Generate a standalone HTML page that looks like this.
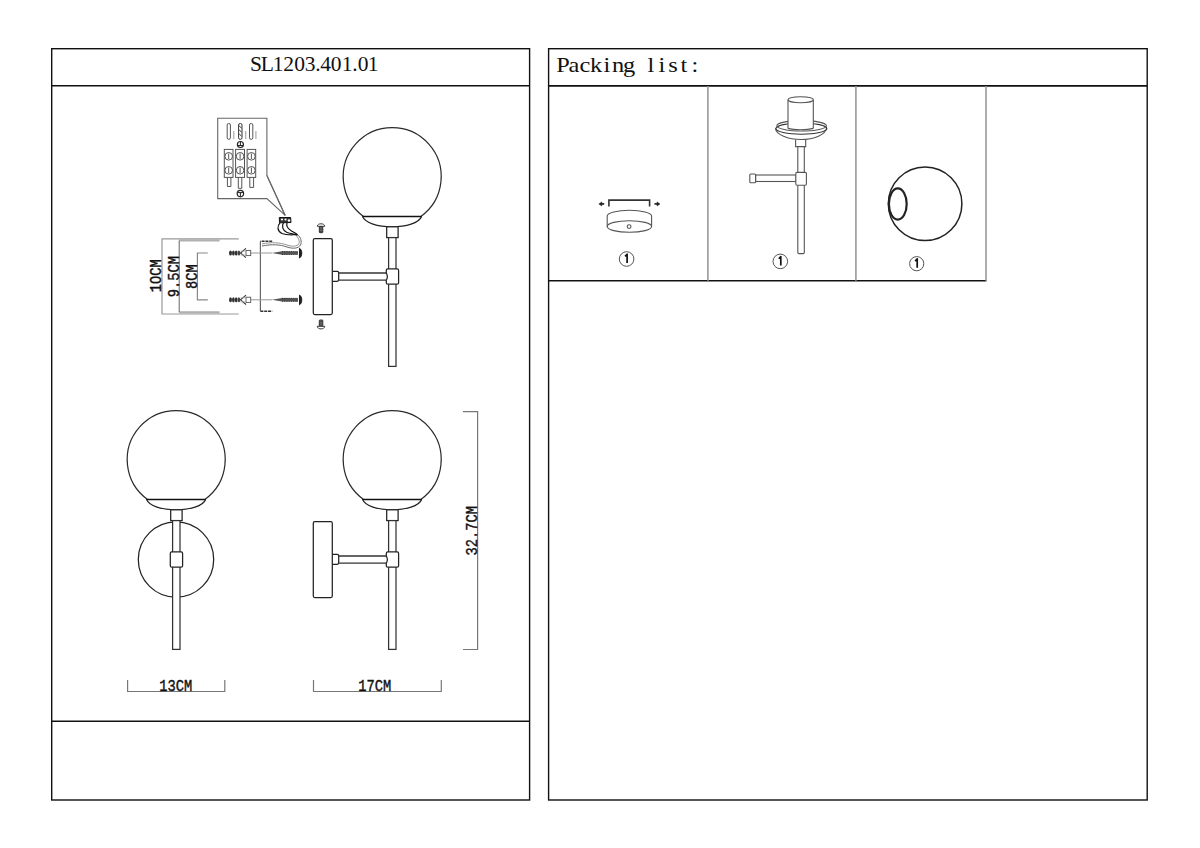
<!DOCTYPE html>
<html><head><meta charset="utf-8"><title>SL1203.401.01</title>
<style>
html,body{margin:0;padding:0;background:#fff;}
body{width:1200px;height:848px;overflow:hidden;position:relative;}
svg{position:absolute;left:0;top:0;}
</style></head>
<body>
<svg width="1200" height="848" viewBox="0 0 1200 848">
<g id="frames" fill="none" stroke="#111" stroke-width="1.4">
  <!-- left panel -->
  <rect x="51.7" y="48.7" width="477.9" height="751.3"/>
  <line x1="51.7" y1="85.8" x2="529.6" y2="85.8" stroke-width="1.6"/>
  <line x1="51.7" y1="721.2" x2="529.6" y2="721.2"/>
  <!-- right panel -->
  <rect x="548.6" y="48.7" width="598.6" height="751.3"/>
  <line x1="548.6" y1="85.9" x2="1147.2" y2="85.9" stroke-width="1.8"/>
  <line x1="548.6" y1="280.8" x2="986.5" y2="280.8" stroke-width="1.6"/>
  <g stroke="#999" stroke-width="1.6">
    <line x1="707.9" y1="86" x2="707.9" y2="280.8"/>
    <line x1="855.9" y1="86" x2="855.9" y2="280.8"/>
    <line x1="986" y1="86" x2="986" y2="280.8"/>
  </g>
</g>

<defs>
  <g id="lamphead">
    <path d="M363.5,499.4 A49,49 0 1 1 420.9,499.4" fill="#fff" stroke="#2a2a2a" stroke-width="1.2"/>
    <path d="M362.5,499.4 C365,506 378,509.8 392,509.8 C406,509.8 419,506 421.6,499.4" fill="#fff" stroke="#222" stroke-width="1.25"/>
    <line x1="362.3" y1="499.4" x2="421.8" y2="499.4" stroke="#111" stroke-width="1.5"/>
    <rect x="386.7" y="509.8" width="11.4" height="10.8" fill="#fff" stroke="#222" stroke-width="1.25"/>
    <rect x="388.6" y="520.6" width="7.4" height="128.8" fill="#fff" stroke="#333" stroke-width="1.25"/>
  </g>
  <rect id="collarF" x="386.3" y="551.9" width="12.3" height="15.3" rx="1.5" fill="#fff" stroke="#222" stroke-width="1.25"/>
  <path id="collarS" d="M386.3,556 V553.4 Q386.3,551.9 387.8,551.9 H397.1 Q398.6,551.9 398.6,553.4 V565.7 Q398.6,567.2 397.1,567.2 H387.8 Q386.3,567.2 386.3,565.7 V563.2 Q388.4,559.6 386.3,556 Z" fill="#fff" stroke="#222" stroke-width="1.25"/>
  <g id="sidearm">
    <path d="M332.3,554.3 H337.2 Q338.7,554.3 338.7,556 V562.6 Q338.7,564.3 337.2,564.3 H332.3" fill="#fff" stroke="#222" stroke-width="1.25"/>
    <rect x="313.3" y="521.7" width="19" height="75.8" rx="1.5" fill="#fff" stroke="#222" stroke-width="1.25"/>
    <line x1="338.7" y1="556" x2="386.3" y2="556" stroke="#333" stroke-width="1.3"/>
    <line x1="338.7" y1="563.2" x2="386.3" y2="563.2" stroke="#333" stroke-width="1.3"/>
  </g>
</defs>

<g id="callout" fill="none" stroke="#666" stroke-width="1.1">
  <path d="M266.9,175.5 V118.3 H217.7 V198.6 H266.9 L285.2,215.4 Z" fill="#fff"/>
  <line x1="266.9" y1="175.5" x2="285.2" y2="215.4"/>
  <g stroke="#555" stroke-width="1">
    <rect x="224.3" y="149.4" width="8.7" height="28" fill="#fff"/>
    <rect x="235.6" y="149.4" width="8.9" height="28" fill="#fff"/>
    <rect x="247.1" y="149.4" width="8.6" height="28" fill="#fff"/>
    <circle cx="228.7" cy="156.3" r="3.8"/><circle cx="240.1" cy="156.3" r="3.8"/><circle cx="251.4" cy="156.3" r="3.8"/>
    <circle cx="228.7" cy="170.3" r="3.8"/><circle cx="240.1" cy="170.3" r="3.8"/><circle cx="251.4" cy="170.3" r="3.8"/>
    <line x1="228.7" y1="153.5" x2="228.7" y2="159"/><line x1="240.1" y1="153.5" x2="240.1" y2="159"/><line x1="251.4" y1="153.5" x2="251.4" y2="159"/>
    <line x1="228.7" y1="167.5" x2="228.7" y2="173"/><line x1="240.1" y1="167.5" x2="240.1" y2="173"/><line x1="251.4" y1="167.5" x2="251.4" y2="173"/>
    <path d="M227.4,177.4 V186.5 H230.9 V177.4"/>
    <path d="M238.3,177.4 V188.3 H241.8 V177.4"/>
    <path d="M249.8,177.4 V187.4 H253.6 V177.4"/>
    <rect x="227.2" y="123.5" width="3.2" height="15.8" rx="1.5"/>
    <rect x="238.6" y="123.5" width="3.4" height="15.8" rx="1.5" stroke="#333"/>
    <rect x="249.5" y="123.5" width="3.3" height="15.8" rx="1.5"/>
    <path d="M239.2,126 L241.5,128 M239.2,130 L241.5,132 M239.2,134 L241.5,136" stroke="#333"/>
    <line x1="233.8" y1="131" x2="233.8" y2="139" stroke="#aaa" stroke-width="1.2"/>
    <line x1="245.7" y1="131" x2="245.7" y2="139" stroke="#aaa" stroke-width="1.2"/>
    <line x1="255.9" y1="131" x2="255.9" y2="139" stroke="#aaa" stroke-width="1.2"/>
    <circle cx="240.4" cy="144.5" r="3" stroke="#222" stroke-width="1.2"/>
    <path d="M237.6,145.5 H243.2 M240.4,142 V145.5" stroke="#222"/>
    <circle cx="240.4" cy="193.6" r="3.2" stroke="#222" stroke-width="1.2"/>
    <path d="M237.6,192.6 H243.2 M240.4,192.6 V196.5" stroke="#222"/>
  </g>
</g>
<g id="terminal" stroke="#111" fill="none">
  <path d="M279.3,217.5 L290.6,217.5 L291,222.5 L279.5,222.8 Z" fill="#333" stroke-width="1"/>
  <circle cx="282" cy="219.5" r="1.1" fill="#fff" stroke="none"/>
  <circle cx="285.5" cy="219.5" r="1.1" fill="#fff" stroke="none"/>
  <circle cx="289" cy="220.5" r="1.3" fill="#fff" stroke="none"/>
  <path d="M280,222.8 C277,226 277,231 282,233.5 C287,235.5 293,234.5 297.5,234.8" stroke-width="1.2"/>
  <path d="M283.5,222.8 C281.5,226 282.5,230.5 287,232.5 C290,233.8 294,234 297.5,234.8" stroke-width="1.2"/>
  <path d="M287,222.8 C286,226 288,229 291.5,231 C294,232.5 296,233.5 297.5,234.8" stroke-width="1.2"/>
  <path d="M297.5,234.8 C301,237 302,242 300.5,245 C298.5,248.5 293,249 287,247 C280,244.5 272,244 262,246" stroke="#666" stroke-width="1"/>
  <path d="M296.5,236 C299,238.5 300,242 298.8,244 C297,246.5 292.5,246.8 287,245 C280,242.5 272,242 262,243.8" stroke="#888" stroke-width="0.9"/>
</g>
<g id="bracket" fill="none" stroke="#333" stroke-width="1.3">
  <path d="M260.4,241.3 V311.3" stroke="#666" stroke-width="1.2"/>
  <path d="M272.2,241.3 H260.4 M260.4,311.3 H272.2" stroke="#333" stroke-width="1.4" stroke-dasharray="3 0.8"/>
</g>
<g id="anchors">
  <g id="anchorA">
    <line x1="250.7" y1="253" x2="272" y2="253" stroke="#999" stroke-width="1"/>
    <rect x="246" y="250.4" width="4.7" height="5.2" fill="#fff" stroke="#555" stroke-width="0.9"/>
    <path d="M246,248.3 L240.5,253 L246,257.7" fill="none" stroke="#333" stroke-width="1.1"/>
    <path d="M240.5,251 L246,251 M240.5,255 L246,255" stroke="#aaa" stroke-width="0.8"/>
    <ellipse cx="230.5" cy="253" rx="1.5" ry="2.5" fill="#333"/>
    <ellipse cx="233.4" cy="253" rx="1.4" ry="2.6" fill="#333"/>
    <ellipse cx="236.2" cy="253" rx="1.4" ry="2.6" fill="#333"/>
    <ellipse cx="238.9" cy="253" rx="1.3" ry="2.5" fill="#444"/>
    <path d="M271.7,253 L282,251.2 L298,251.4 L298,254.6 L282,254.8 Z" fill="#555"/>
    <path d="M282,251.5 L298,251.5 M282,254.5 L298,254.5" stroke="#222" stroke-width="0.8" stroke-dasharray="1 0.8"/>
    <path d="M299.5,248.3 V258 C302.5,256.5 302.5,249.8 299.5,248.3 Z" fill="#222" stroke="#111" stroke-width="0.9"/>
  </g>
  <use href="#anchorA" transform="translate(0,46.8)"/>
</g>
<g id="screws" stroke="#222" stroke-width="0.9">
  <rect x="319.3" y="226.3" width="3.5" height="6.4" rx="0.6" fill="#777"/>
  <path d="M319.6,228 H322.5 M319.6,229.8 H322.5 M319.6,231.5 H322.5" stroke="#333" stroke-width="0.7"/>
  <path d="M317.3,226.3 C317.3,224.6 319,223.8 321,223.8 C323,223.8 324.7,224.6 324.7,226.3 Z" fill="#fff"/>
  <rect x="319.3" y="320" width="3.5" height="6.3" rx="0.6" fill="#777"/>
  <path d="M319.6,321.5 H322.5 M319.6,323.2 H322.5 M319.6,325 H322.5" stroke="#333" stroke-width="0.7"/>
  <path d="M317.3,326.3 C317.3,328 319,328.9 321,328.9 C323,328.9 324.7,328 324.7,326.3 Z" fill="#fff"/>
</g>
<g id="sideview">
  <use href="#sidearm"/>
  <use href="#lamphead"/>
  <use href="#collarS"/>
</g>
<g id="topview" transform="translate(0,-283)">
  <use href="#sidearm"/>
  <use href="#lamphead"/>
  <use href="#collarS"/>
</g>
<g id="frontview" transform="translate(-216,0)">
  <circle cx="392" cy="559.5" r="37.7" fill="#fff" stroke="#222" stroke-width="1.25"/>
  <use href="#lamphead"/>
  <use href="#collarF"/>
</g>

<g id="dims" fill="none" stroke="#777" stroke-width="1.2">
  <path d="M127.6,680 V691.5 H224.8 V680"/>
  <path d="M313.5,680 V691.5 H441.3 V680"/>
  <path d="M463,411.6 H477.6 V649.5 H463"/>
  <path d="M238.8,238.8 H162 V314 H238.8" stroke="#999"/>
  <path d="M219.6,240.3 H179.2 M179.2,312.3 H219.6" stroke="#b0b0b0" stroke-width="2.2"/>
  <path d="M179.2,240.5 V312.3" stroke="#666" stroke-width="1"/>
  <path d="M207.8,253 H197.4 V299.8 H207.8" stroke="#888"/>
</g>
<g id="dimtext" fill="#111" stroke="#111" stroke-width="0.4" font-family="Liberation Mono" font-size="16">
  <text transform="translate(159.3,690.8) scale(0.86,1)">13CM</text>
  <text transform="translate(358.2,691) scale(0.86,1)">17CM</text>
  <text transform="translate(477.2,555.6) rotate(-90) scale(0.86,1)">32.7CM</text>
  <text transform="translate(161.2,292.2) rotate(-90) scale(0.86,1)">1OCM</text>
  <text transform="translate(178.9,297.2) rotate(-90) scale(0.86,1)">9.5CM</text>
  <text transform="translate(197.2,289) rotate(-90) scale(0.86,1)">8CM</text>
</g>

<g id="item1" fill="none" stroke="#555" stroke-width="1.1">
  <path d="M608.9,206.4 V200.1 H649.6 V206.4" stroke="#333" stroke-width="1.6"/>
  <path d="M604.2,203.9 H601" stroke="#222" stroke-width="1.7"/>
  <path d="M598.8,203.9 L601.8,201.9 L601.8,205.9 Z" fill="#222" stroke="#222" stroke-width="0.5"/>
  <path d="M654.5,203.9 H657.6" stroke="#222" stroke-width="1.7"/>
  <path d="M660,203.9 L657,201.9 L657,205.9 Z" fill="#222" stroke="#222" stroke-width="0.5"/>
  <path d="M607.2,216 A22.2,5.7 0 0 1 651.6,216 V226.4"/>
  <line x1="607.2" y1="216" x2="607.2" y2="226.4"/>
  <ellipse cx="629.4" cy="226.5" rx="22.2" ry="5.8"/>
  <circle cx="629.1" cy="226.6" r="1.9"/>
</g>
<g id="item2" fill="#fff" stroke="#555" stroke-width="1.1">
  <rect x="797.8" y="146" width="6.5" height="107.6" rx="1"/>
  <path d="M795.6,139.5 V146.6 H805.7 V139.5"/>
  <path d="M775.4,128.2 C776,134.5 788,139.5 801,139.5 C814,139.5 826,134.5 826.6,127.8"/>
  <ellipse cx="801.4" cy="128.6" rx="25.5" ry="5.6" fill="none" stroke="#333"/>
  <ellipse cx="801.6" cy="125.8" rx="24.8" ry="5.2" fill="none" stroke="#555"/>
  <path d="M788,129 V99.7 H813.3 V129 C813.3,130.5 788,130.5 788,129 Z" stroke="none"/>
  <path d="M788,99.7 V128.6 M813.3,99.7 V128.6" />
  <path d="M788,128.4 C794,130.2 807,130.2 813.3,128.4" fill="none"/>
  <ellipse cx="800.7" cy="99.7" rx="12.65" ry="3"/>
  <rect x="755.6" y="175" width="40.5" height="6.5"/>
  <rect x="749.8" y="174" width="5.8" height="8.7" rx="1"/>
  <rect x="795.8" y="172.4" width="10.6" height="12.9" rx="1.2"/>
</g>
<g id="item3" fill="none" stroke="#222">
  <circle cx="925.1" cy="203.7" r="36.8" stroke-width="1.5"/>
  <ellipse cx="897.8" cy="204" rx="8.9" ry="15.6" stroke-width="2.2"/>
</g>
<g id="nums" fill="none" stroke="#555" stroke-width="1">
  <circle cx="626.6" cy="259" r="7.3"/>
  <circle cx="780.3" cy="261.4" r="7.3"/>
  <circle cx="916.7" cy="263.7" r="7.1"/>
</g>
<g fill="none" stroke="#111" stroke-width="1.7" stroke-linejoin="round">
  <path d="M627.1,263.0 V254.2 L625.1,256.4"/>
  <path d="M780.8,265.4 V256.6 L778.8,258.8"/>
  <path d="M917.2,267.7 V258.9 L915.2,261.1"/>
</g>
<g id="texts" fill="#111" font-family="Liberation Serif" text-anchor="middle">
  <text x="256 267.4 278.2 288.6 299.5 310.2 317.9 325.6 336.2 347.1 355 363 373.2" y="71" font-size="21.5">SL1203.401.01</text>
  <text transform="scale(1.12,1)" x="502.68 512.5 522.32 532.14 541.96 551.79 561.61 581.25 591.07 600.89 610.71 620.54" y="72.4" font-size="21.8">Packinglist:</text>
</g>
</svg>
</body></html>
